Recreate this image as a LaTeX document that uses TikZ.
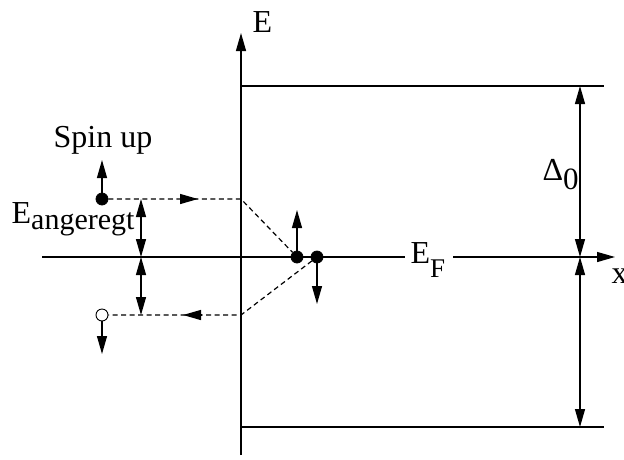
\documentclass[tikz,border=0pt]{standalone}
\usepackage{fontspec}
\setmainfont{Liberation Serif}
\usetikzlibrary{arrows.meta}
\begin{document}
\begin{tikzpicture}[x=1pt,y=-1pt,line width=1.3pt,
  tip/.style={-{Triangle[length=18pt,width=10pt]}},
  dtip/.style={{Triangle[length=18pt,width=10pt]}-{Triangle[length=18pt,width=10pt]}},
  dashline/.style={line width=1.2pt,dash pattern=on 5pt off 3.5pt},
  lbl/.style={inner sep=0pt,anchor=base west,font=\fontsize{32}{36}\selectfont},
  fdot/.style={circle,fill=black,draw=black,line width=0.8pt,inner sep=0pt,minimum size=12pt},
  odot/.style={circle,fill=white,draw=black,line width=0.9pt,inner sep=0pt,minimum size=12pt}]
\useasboundingbox (0,0) rectangle (624,459);
% coordinates
\coordinate (vb) at (241,455);
\coordinate (vt) at (241,33);
\coordinate (hl) at (42,257);
\coordinate (efa) at (405,257);
\coordinate (efb) at (453,257);
\coordinate (hr) at (615,257);
\coordinate (tl) at (241,86);
\coordinate (tr) at (604,86);
\coordinate (bl) at (241,427);
\coordinate (br) at (604,427);
\coordinate (dtop) at (580,86);
\coordinate (dmid) at (580,257);
\coordinate (dbot) at (580,427);
\coordinate (k1) at (241,199);
\coordinate (k2) at (241,315);
\coordinate (a1s) at (180,199);
\coordinate (a1e) at (198,199);
\coordinate (a2s) at (201,315);
\coordinate (a2e) at (183,315);
\coordinate (gt) at (141,199);
\coordinate (gm) at (141,257);
\coordinate (gb) at (141,315);
\coordinate (s1) at (102,160);
\coordinate (s2) at (297,210);
\coordinate (s3) at (317,304);
\coordinate (s4) at (102,354);
% axes and levels
\draw[tip] (vb) -- (vt);
\draw (hl) -- (efa);
\draw[tip] (efb) -- (hr);
\draw (tl) -- (tr);
\draw (bl) -- (br);
\draw[dtip] (dtop) -- (dmid);
\draw[dtip] (dmid) -- (dbot);
% labels
\node[lbl] (lE) at (252,32) {E};
\node[lbl] (lspin) at (53,147) {Spin up};
\node[lbl] (lang) at (11,223) {E\raisebox{-6pt}{\fontsize{30}{32}\selectfont angeregt}};
\node[lbl] (lef) at (410,263) {E\raisebox{-14pt}{\fontsize{27}{30}\selectfont F}};
\node[lbl] (ldelta) at (542,180) {Δ\raisebox{-9pt}{\fontsize{31}{32}\selectfont 0}};
\node[lbl] (lx) at (611,283) {x};
% dots
\node[fdot] (d1) at (102,199) {};
\node[fdot] (d2) at (297,257) {};
\node[fdot] (d3) at (317,257) {};
\node[odot] (o1) at (102,315) {};
% dashed paths
\draw[dashline] (d1) -- (k1) -- (d2);
\draw[dashline] (d3) -- (k2) -- (o1);
\draw[tip] (a1s) -- (a1e);
\draw[tip] (a2s) -- (a2e);
% spin arrows
\draw[tip] (d1) -- (s1);
\draw[tip] (d2) -- (s2);
\draw[tip] (d3) -- (s3);
\draw[tip] (o1) -- (s4);
% excitation arrows
\draw[dtip] (gt) -- (gm);
\draw[dtip] (gm) -- (gb);
\end{tikzpicture}
\end{document}
